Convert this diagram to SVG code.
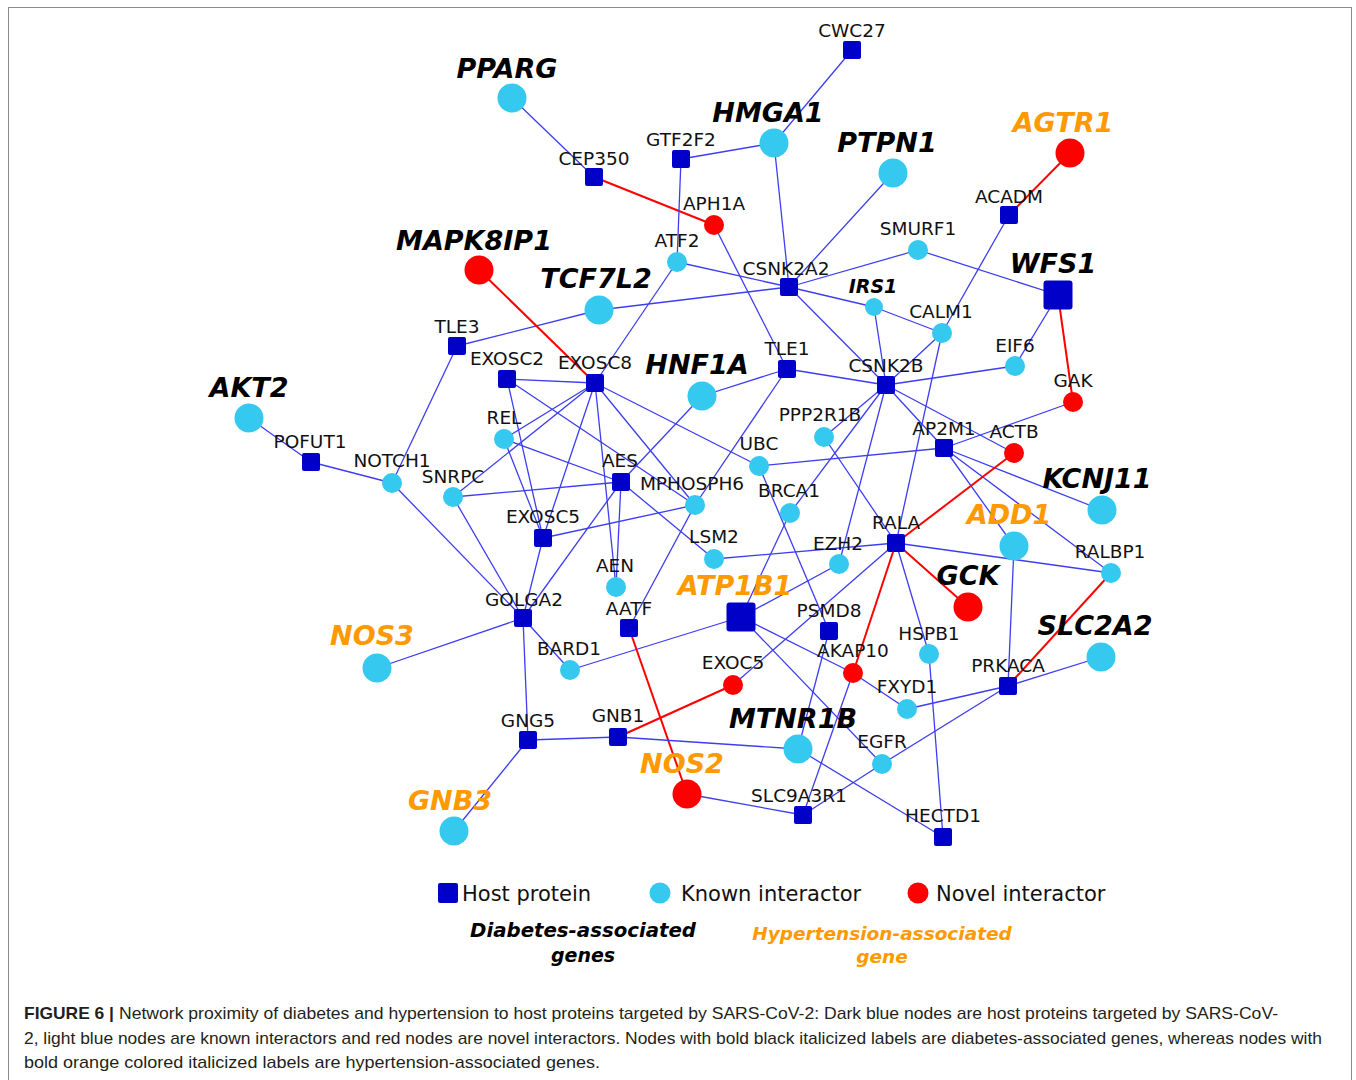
<svg xmlns="http://www.w3.org/2000/svg" width="1356" height="1080" viewBox="0 0 1356 1080">
<style>
.e{stroke:#3d3df2;stroke-width:1.3;fill:none}
.r{stroke:#ff0000;stroke-width:2;fill:none}
.h{fill:#0000c8}
.k{fill:#35c9ef}
.n{fill:#ff0000}
.lb{font-family:"DejaVu Sans",Verdana,sans-serif;font-size:18.5px;fill:#111;text-anchor:middle}
.bd{font-family:"DejaVu Sans",Verdana,sans-serif;font-weight:bold;font-style:italic;font-size:27px;text-anchor:middle;fill:#000}
.ht{font-family:"DejaVu Sans",Verdana,sans-serif;font-weight:bold;font-style:italic;font-size:27px;text-anchor:middle;fill:#ff9900}
.lg{font-family:"DejaVu Sans",Verdana,sans-serif;font-size:21px;fill:#111}
.lgd{font-family:"DejaVu Sans",Verdana,sans-serif;font-weight:bold;font-style:italic;font-size:19px;text-anchor:middle;fill:#000}
.lgh{font-family:"DejaVu Sans",Verdana,sans-serif;font-weight:bold;font-style:italic;font-size:18.5px;text-anchor:middle;fill:#ff9900}
.cap{font-family:"Liberation Sans Narrow","Liberation Sans",Arial,sans-serif;font-size:17px;fill:#231f20}
</style>
<rect x="0" y="0" width="1356" height="1080" fill="#fff"/>
<rect x="8.5" y="7.5" width="1343" height="1100" fill="none" stroke="#8a8a8a" stroke-width="1"/>
<g id="edges">
<line class="e" x1="512" y1="98" x2="594" y2="177"/>
<line class="r" x1="594" y1="177" x2="714" y2="225"/>
<line class="e" x1="852" y1="50" x2="774" y2="143"/>
<line class="e" x1="681" y1="159" x2="774" y2="143"/>
<line class="e" x1="681" y1="159" x2="677" y2="262"/>
<line class="e" x1="774" y1="143" x2="789" y2="287"/>
<line class="e" x1="714" y1="225" x2="787" y2="369"/>
<line class="e" x1="677" y1="262" x2="789" y2="287"/>
<line class="e" x1="677" y1="262" x2="595" y2="383"/>
<line class="e" x1="599" y1="310" x2="789" y2="287"/>
<line class="e" x1="599" y1="310" x2="457" y2="346"/>
<line class="r" x1="479" y1="270" x2="595" y2="383"/>
<line class="e" x1="893" y1="173" x2="789" y2="287"/>
<line class="e" x1="789" y1="287" x2="918" y2="250"/>
<line class="e" x1="918" y1="250" x2="1058" y2="295"/>
<line class="r" x1="1070" y1="153" x2="1009" y2="215"/>
<line class="e" x1="1009" y1="215" x2="942" y2="333"/>
<line class="e" x1="789" y1="287" x2="874" y2="307"/>
<line class="e" x1="874" y1="307" x2="942" y2="333"/>
<line class="e" x1="789" y1="287" x2="886" y2="385"/>
<line class="e" x1="874" y1="307" x2="886" y2="385"/>
<line class="e" x1="942" y1="333" x2="886" y2="385"/>
<line class="e" x1="942" y1="333" x2="896" y2="543"/>
<line class="e" x1="1058" y1="295" x2="1015" y2="366"/>
<line class="r" x1="1058" y1="295" x2="1073" y2="402"/>
<line class="e" x1="886" y1="385" x2="1015" y2="366"/>
<line class="e" x1="787" y1="369" x2="886" y2="385"/>
<line class="e" x1="787" y1="369" x2="702" y2="396"/>
<line class="e" x1="787" y1="369" x2="695" y2="505"/>
<line class="e" x1="702" y1="396" x2="621" y2="482"/>
<line class="e" x1="507" y1="379" x2="595" y2="383"/>
<line class="e" x1="507" y1="379" x2="543" y2="538"/>
<line class="e" x1="507" y1="379" x2="695" y2="505"/>
<line class="e" x1="595" y1="383" x2="504" y2="439"/>
<line class="e" x1="595" y1="383" x2="453" y2="497"/>
<line class="e" x1="595" y1="383" x2="543" y2="538"/>
<line class="e" x1="595" y1="383" x2="616" y2="587"/>
<line class="e" x1="595" y1="383" x2="695" y2="505"/>
<line class="e" x1="595" y1="383" x2="759" y2="466"/>
<line class="e" x1="457" y1="346" x2="392" y2="483"/>
<line class="e" x1="249" y1="418" x2="311" y2="462"/>
<line class="e" x1="311" y1="462" x2="392" y2="483"/>
<line class="e" x1="392" y1="483" x2="523" y2="618"/>
<line class="e" x1="453" y1="497" x2="523" y2="618"/>
<line class="e" x1="453" y1="497" x2="621" y2="482"/>
<line class="e" x1="504" y1="439" x2="543" y2="538"/>
<line class="e" x1="504" y1="439" x2="621" y2="482"/>
<line class="e" x1="621" y1="482" x2="616" y2="587"/>
<line class="e" x1="621" y1="482" x2="714" y2="559"/>
<line class="e" x1="621" y1="482" x2="523" y2="618"/>
<line class="e" x1="543" y1="538" x2="695" y2="505"/>
<line class="e" x1="543" y1="538" x2="523" y2="618"/>
<line class="e" x1="695" y1="505" x2="629" y2="628"/>
<line class="r" x1="629" y1="628" x2="687" y2="794"/>
<line class="e" x1="523" y1="618" x2="377" y2="668"/>
<line class="e" x1="523" y1="618" x2="528" y2="740"/>
<line class="e" x1="523" y1="618" x2="570" y2="670"/>
<line class="e" x1="570" y1="670" x2="741" y2="617"/>
<line class="e" x1="528" y1="740" x2="618" y2="737"/>
<line class="e" x1="528" y1="740" x2="454" y2="831"/>
<line class="r" x1="618" y1="737" x2="733" y2="685"/>
<line class="e" x1="618" y1="737" x2="798" y2="749"/>
<line class="e" x1="798" y1="749" x2="943" y2="837"/>
<line class="e" x1="798" y1="749" x2="829" y2="631"/>
<line class="e" x1="759" y1="466" x2="829" y2="631"/>
<line class="e" x1="759" y1="466" x2="944" y2="448"/>
<line class="e" x1="886" y1="385" x2="824" y2="437"/>
<line class="e" x1="886" y1="385" x2="790" y2="513"/>
<line class="e" x1="886" y1="385" x2="839" y2="564"/>
<line class="e" x1="886" y1="385" x2="944" y2="448"/>
<line class="e" x1="886" y1="385" x2="1014" y2="453"/>
<line class="e" x1="824" y1="437" x2="896" y2="543"/>
<line class="e" x1="944" y1="448" x2="1073" y2="402"/>
<line class="e" x1="944" y1="448" x2="1014" y2="546"/>
<line class="e" x1="944" y1="448" x2="1102" y2="510"/>
<line class="e" x1="944" y1="448" x2="1111" y2="573"/>
<line class="r" x1="1014" y1="453" x2="896" y2="543"/>
<line class="r" x1="896" y1="543" x2="968" y2="607"/>
<line class="r" x1="896" y1="543" x2="853" y2="673"/>
<line class="e" x1="896" y1="543" x2="1111" y2="573"/>
<line class="e" x1="896" y1="543" x2="929" y2="654"/>
<line class="e" x1="714" y1="559" x2="896" y2="543"/>
<line class="e" x1="733" y1="685" x2="896" y2="543"/>
<line class="e" x1="741" y1="617" x2="839" y2="564"/>
<line class="e" x1="741" y1="617" x2="790" y2="513"/>
<line class="e" x1="741" y1="617" x2="853" y2="673"/>
<line class="e" x1="853" y1="673" x2="907" y2="709"/>
<line class="e" x1="741" y1="617" x2="882" y2="764"/>
<line class="e" x1="853" y1="673" x2="803" y2="815"/>
<line class="e" x1="907" y1="709" x2="1008" y2="686"/>
<line class="e" x1="882" y1="764" x2="1008" y2="686"/>
<line class="e" x1="882" y1="764" x2="803" y2="815"/>
<line class="e" x1="803" y1="815" x2="687" y2="794"/>
<line class="e" x1="929" y1="654" x2="943" y2="837"/>
<line class="e" x1="1014" y1="546" x2="1008" y2="686"/>
<line class="r" x1="1111" y1="573" x2="1008" y2="686"/>
<line class="e" x1="1008" y1="686" x2="1101" y2="657"/>
</g>
<g id="n-CWC27"><rect class="h" x="843" y="41" width="18" height="18" rx="2"/><text class="lb" x="852" y="37">CWC27</text></g>
<g id="n-CEP350"><rect class="h" x="585" y="168" width="18" height="18" rx="2"/><text class="lb" x="594" y="165">CEP350</text></g>
<g id="n-GTF2F2"><rect class="h" x="672" y="150" width="18" height="18" rx="2"/><text class="lb" x="681" y="146">GTF2F2</text></g>
<g id="n-ACADM"><rect class="h" x="1000" y="206" width="18" height="18" rx="2"/><text class="lb" x="1009" y="203">ACADM</text></g>
<g id="n-CSNK2A2"><rect class="h" x="780" y="278" width="18" height="18" rx="2"/><text class="lb" x="786" y="275">CSNK2A2</text></g>
<g id="n-TLE3"><rect class="h" x="448" y="337" width="18" height="18" rx="2"/><text class="lb" x="457" y="333">TLE3</text></g>
<g id="n-EXOSC2"><rect class="h" x="498" y="370" width="18" height="18" rx="2"/><text class="lb" x="507" y="365">EXOSC2</text></g>
<g id="n-EXOSC8"><rect class="h" x="586" y="374" width="18" height="18" rx="2"/><text class="lb" x="595" y="369">EXOSC8</text></g>
<g id="n-TLE1"><rect class="h" x="778" y="360" width="18" height="18" rx="2"/><text class="lb" x="787" y="355">TLE1</text></g>
<g id="n-CSNK2B"><rect class="h" x="877" y="376" width="18" height="18" rx="2"/><text class="lb" x="886" y="372">CSNK2B</text></g>
<g id="n-AP2M1"><rect class="h" x="935" y="439" width="18" height="18" rx="2"/><text class="lb" x="944" y="435">AP2M1</text></g>
<g id="n-POFUT1"><rect class="h" x="302" y="453" width="18" height="18" rx="2"/><text class="lb" x="310" y="448">POFUT1</text></g>
<g id="n-AES"><rect class="h" x="612" y="473" width="18" height="18" rx="2"/><text class="lb" x="620" y="467">AES</text></g>
<g id="n-EXOSC5"><rect class="h" x="534" y="529" width="18" height="18" rx="2"/><text class="lb" x="543" y="523">EXOSC5</text></g>
<g id="n-RALA"><rect class="h" x="887" y="534" width="18" height="18" rx="2"/><text class="lb" x="896" y="529">RALA</text></g>
<g id="n-GOLGA2"><rect class="h" x="514" y="609" width="18" height="18" rx="2"/><text class="lb" x="524" y="606">GOLGA2</text></g>
<g id="n-AATF"><rect class="h" x="620" y="619" width="18" height="18" rx="2"/><text class="lb" x="629" y="615">AATF</text></g>
<g id="n-PSMD8"><rect class="h" x="820" y="622" width="18" height="18" rx="2"/><text class="lb" x="829" y="617">PSMD8</text></g>
<g id="n-PRKACA"><rect class="h" x="999" y="677" width="18" height="18" rx="2"/><text class="lb" x="1008" y="672">PRKACA</text></g>
<g id="n-GNG5"><rect class="h" x="519" y="731" width="18" height="18" rx="2"/><text class="lb" x="528" y="727">GNG5</text></g>
<g id="n-GNB1"><rect class="h" x="609" y="728" width="18" height="18" rx="2"/><text class="lb" x="618" y="722">GNB1</text></g>
<g id="n-SLC9A3R1"><rect class="h" x="794" y="806" width="18" height="18" rx="2"/><text class="lb" x="799" y="802">SLC9A3R1</text></g>
<g id="n-HECTD1"><rect class="h" x="934" y="828" width="18" height="18" rx="2"/><text class="lb" x="943" y="822">HECTD1</text></g>
<g id="n-WFS1"><rect class="h" x="1043.5" y="280.5" width="29" height="29" rx="3"/><text class="bd" x="1053" y="273">WFS1</text></g>
<g id="n-ATP1B1"><rect class="h" x="726.5" y="602.5" width="29" height="29" rx="3"/><text class="ht" x="735" y="595">ATP1B1</text></g>
<g id="n-ATF2"><circle class="k" cx="677" cy="262" r="10"/><text class="lb" x="677" y="247">ATF2</text></g>
<g id="n-SMURF1"><circle class="k" cx="918" cy="250" r="10"/><text class="lb" x="918" y="235">SMURF1</text></g>
<g id="n-IRS1"><circle class="k" cx="874" cy="307" r="9"/><text class="bd" style="font-size:19px" x="873" y="293">IRS1</text></g>
<g id="n-CALM1"><circle class="k" cx="942" cy="333" r="10"/><text class="lb" x="941" y="318">CALM1</text></g>
<g id="n-EIF6"><circle class="k" cx="1015" cy="366" r="10"/><text class="lb" x="1015" y="352">EIF6</text></g>
<g id="n-REL"><circle class="k" cx="504" cy="439" r="10"/><text class="lb" x="504" y="424">REL</text></g>
<g id="n-PPP2R1B"><circle class="k" cx="824" cy="437" r="10"/><text class="lb" x="820" y="421">PPP2R1B</text></g>
<g id="n-NOTCH1"><circle class="k" cx="392" cy="483" r="10"/><text class="lb" x="392" y="467">NOTCH1</text></g>
<g id="n-SNRPC"><circle class="k" cx="453" cy="497" r="10"/><text class="lb" x="453" y="483">SNRPC</text></g>
<g id="n-UBC"><circle class="k" cx="759" cy="466" r="10"/><text class="lb" x="759" y="450">UBC</text></g>
<g id="n-MPHOSPH6"><circle class="k" cx="695" cy="505" r="10"/><text class="lb" x="692" y="490">MPHOSPH6</text></g>
<g id="n-BRCA1"><circle class="k" cx="790" cy="513" r="10"/><text class="lb" x="789" y="497">BRCA1</text></g>
<g id="n-LSM2"><circle class="k" cx="714" cy="559" r="10"/><text class="lb" x="714" y="543">LSM2</text></g>
<g id="n-EZH2"><circle class="k" cx="839" cy="564" r="10"/><text class="lb" x="838" y="550">EZH2</text></g>
<g id="n-AEN"><circle class="k" cx="616" cy="587" r="10"/><text class="lb" x="615" y="572">AEN</text></g>
<g id="n-RALBP1"><circle class="k" cx="1111" cy="573" r="10"/><text class="lb" x="1110" y="558">RALBP1</text></g>
<g id="n-HSPB1"><circle class="k" cx="929" cy="654" r="10"/><text class="lb" x="929" y="640">HSPB1</text></g>
<g id="n-BARD1"><circle class="k" cx="570" cy="670" r="10"/><text class="lb" x="569" y="655">BARD1</text></g>
<g id="n-FXYD1"><circle class="k" cx="907" cy="709" r="10"/><text class="lb" x="907" y="693">FXYD1</text></g>
<g id="n-EGFR"><circle class="k" cx="882" cy="764" r="10"/><text class="lb" x="882" y="748">EGFR</text></g>
<g id="n-PPARG"><circle class="k" cx="512" cy="98" r="14.5"/><text class="bd" x="507" y="78">PPARG</text></g>
<g id="n-HMGA1"><circle class="k" cx="774" cy="143" r="14.5"/><text class="bd" x="768" y="122">HMGA1</text></g>
<g id="n-PTPN1"><circle class="k" cx="893" cy="173" r="14.5"/><text class="bd" x="887" y="152">PTPN1</text></g>
<g id="n-TCF7L2"><circle class="k" cx="599" cy="310" r="14.5"/><text class="bd" x="596" y="288">TCF7L2</text></g>
<g id="n-AKT2"><circle class="k" cx="249" cy="418" r="14.5"/><text class="bd" x="249" y="397">AKT2</text></g>
<g id="n-HNF1A"><circle class="k" cx="702" cy="396" r="14.5"/><text class="bd" x="697" y="374">HNF1A</text></g>
<g id="n-KCNJ11"><circle class="k" cx="1102" cy="510" r="14.5"/><text class="bd" x="1097" y="488">KCNJ11</text></g>
<g id="n-ADD1"><circle class="k" cx="1014" cy="546" r="14.5"/><text class="ht" x="1009" y="524">ADD1</text></g>
<g id="n-SLC2A2"><circle class="k" cx="1101" cy="657" r="14.5"/><text class="bd" x="1095" y="635">SLC2A2</text></g>
<g id="n-NOS3"><circle class="k" cx="377" cy="668" r="14.5"/><text class="ht" x="372" y="645">NOS3</text></g>
<g id="n-MTNR1B"><circle class="k" cx="798" cy="749" r="14.5"/><text class="bd" x="793" y="728">MTNR1B</text></g>
<g id="n-GNB3"><circle class="k" cx="454" cy="831" r="14.5"/><text class="ht" x="450" y="810">GNB3</text></g>
<g id="n-APH1A"><circle class="n" cx="714" cy="225" r="10"/><text class="lb" x="714" y="210">APH1A</text></g>
<g id="n-GAK"><circle class="n" cx="1073" cy="402" r="10"/><text class="lb" x="1073" y="387">GAK</text></g>
<g id="n-ACTB"><circle class="n" cx="1014" cy="453" r="10"/><text class="lb" x="1014" y="438">ACTB</text></g>
<g id="n-EXOC5"><circle class="n" cx="733" cy="685" r="10"/><text class="lb" x="733" y="669">EXOC5</text></g>
<g id="n-AKAP10"><circle class="n" cx="853" cy="673" r="10"/><text class="lb" x="853" y="657">AKAP10</text></g>
<g id="n-MAPK8IP1"><circle class="n" cx="479" cy="270" r="14.5"/><text class="bd" x="474" y="250">MAPK8IP1</text></g>
<g id="n-AGTR1"><circle class="n" cx="1070" cy="153" r="14.5"/><text class="ht" x="1063" y="132">AGTR1</text></g>
<g id="n-GCK"><circle class="n" cx="968" cy="607" r="14.5"/><text class="bd" x="968" y="585">GCK</text></g>
<g id="n-NOS2"><circle class="n" cx="687" cy="794" r="14.5"/><text class="ht" x="682" y="773">NOS2</text></g>
<g id="legend">
<rect class="h" x="438" y="883" width="20" height="20" rx="2"/><text class="lg" x="462" y="901">Host protein</text>
<circle class="k" cx="660" cy="893" r="10.5"/><text class="lg" x="681" y="901">Known interactor</text>
<circle class="n" cx="918" cy="893" r="10.5"/><text class="lg" x="936" y="901">Novel interactor</text>
<text class="lgd" x="583" y="937" textLength="226" lengthAdjust="spacingAndGlyphs">Diabetes-associated</text>
<text class="lgd" x="583" y="962">genes</text>
<text class="lgh" x="882" y="940">Hypertension-associated</text>
<text class="lgh" x="882" y="963">gene</text>
</g>
<g id="caption">
<text class="cap" x="24" y="1019" font-weight="bold" textLength="90" lengthAdjust="spacingAndGlyphs">FIGURE 6 |</text>
<text class="cap" x="119" y="1019" textLength="1159" lengthAdjust="spacingAndGlyphs">Network proximity of diabetes and hypertension to host proteins targeted by SARS-CoV-2: Dark blue nodes are host proteins targeted by SARS-CoV-</text>
<text class="cap" x="24" y="1044" textLength="1298" lengthAdjust="spacingAndGlyphs">2, light blue nodes are known interactors and red nodes are novel interactors. Nodes with bold black italicized labels are diabetes-associated genes, whereas nodes with</text>
<text class="cap" x="24" y="1068" textLength="576" lengthAdjust="spacingAndGlyphs">bold orange colored italicized labels are hypertension-associated genes.</text>
</g>
</svg>
